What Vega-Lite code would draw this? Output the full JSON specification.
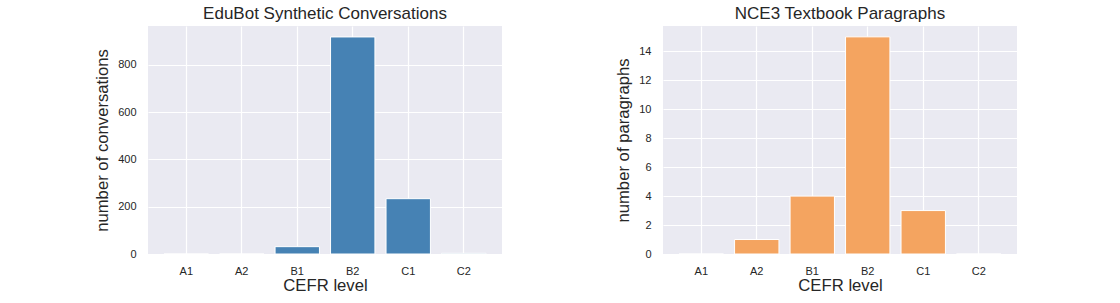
{
  "$schema": "https://vega.github.io/schema/vega-lite/v6.json",
  "background": "white",
  "padding": {"left": 94, "top": 5, "right": 10, "bottom": 5},
  "bounds": "flush",
  "spacing": 161,
  "config": {
    "font": "Liberation Sans",
    "view": {"fill": "#EAEAF2", "stroke": null},
    "axis": {
      "domain": false,
      "ticks": false,
      "grid": true,
      "gridColor": "white",
      "gridWidth": 1.2,
      "labelColor": "#262626",
      "titleColor": "#262626",
      "labelFont": "Liberation Sans",
      "titleFont": "Liberation Sans",
      "labelFontSize": 11,
      "titleFontSize": 16.7,
      "titleFontWeight": "normal"
    },
    "title": {"font": "Liberation Sans", "fontSize": 17, "fontWeight": "normal", "color": "#262626", "offset": 3}
  },
  "datasets": {
    "edubot": [
      {"level": "A1", "count": 0},
      {"level": "A2", "count": 0},
      {"level": "B1", "count": 31},
      {"level": "B2", "count": 918},
      {"level": "C1", "count": 234},
      {"level": "C2", "count": 3}
    ],
    "nce3": [
      {"level": "A1", "count": 0},
      {"level": "A2", "count": 1},
      {"level": "B1", "count": 4},
      {"level": "B2", "count": 15},
      {"level": "C1", "count": 3},
      {"level": "C2", "count": 0}
    ]
  },
  "hconcat": [
    {
      "title": "EduBot Synthetic Conversations",
      "width": 354,
      "height": 228,
      "data": {"name": "edubot"},
      "mark": {"type": "bar", "color": "#4682B4", "stroke": "white", "strokeWidth": 1},
      "encoding": {
        "x": {
          "field": "level", "type": "nominal",
          "sort": ["A1", "A2", "B1", "B2", "C1", "C2"],
          "scale": {"paddingInner": 0.2, "paddingOuter": 0.29},
          "axis": {"title": "CEFR level", "labelAngle": 0, "grid": true, "bandPosition": 0.5, "labelPadding": 11, "titlePadding": 1}
        },
        "y": {
          "field": "count", "type": "quantitative",
          "scale": {"domain": [0, 964.3], "nice": false},
          "axis": {"title": "number of conversations", "values": [0, 200, 400, 600, 800], "labelPadding": 12, "titlePadding": 6}
        }
      }
    },
    {
      "title": "NCE3 Textbook Paragraphs",
      "width": 354,
      "height": 228,
      "data": {"name": "nce3"},
      "mark": {"type": "bar", "color": "#F4A460", "stroke": "white", "strokeWidth": 1},
      "encoding": {
        "x": {
          "field": "level", "type": "nominal",
          "sort": ["A1", "A2", "B1", "B2", "C1", "C2"],
          "scale": {"paddingInner": 0.2, "paddingOuter": 0.29},
          "axis": {"title": "CEFR level", "labelAngle": 0, "grid": true, "bandPosition": 0.5, "labelPadding": 11, "titlePadding": 1}
        },
        "y": {
          "field": "count", "type": "quantitative",
          "scale": {"domain": [0, 15.75], "nice": false},
          "axis": {"title": "number of paragraphs", "values": [0, 2, 4, 6, 8, 10, 12, 14], "labelPadding": 12, "titlePadding": 6}
        }
      }
    }
  ]
}
